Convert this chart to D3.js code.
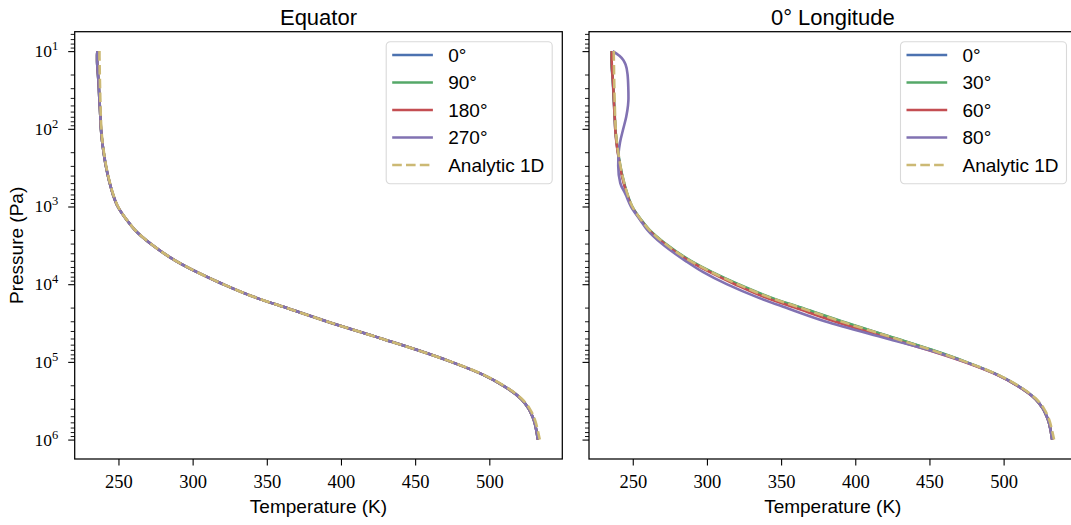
<!DOCTYPE html>
<html>
<head>
<meta charset="utf-8">
<script src="https://cdn.jsdelivr.net/npm/d3@7"></script>
<style>
  body { margin: 0; background: #fff; }
  svg { display: block; }
  .sans { font-family: "Liberation Sans", Arial, sans-serif; fill: #000; }
  .serif { font-family: "Liberation Serif", "Times New Roman", serif; fill: #000; }
</style>
</head>
<body>
<svg id="chart" width="1071" height="525"></svg>
<script>
// pressure levels (Pa) the profiles were read at
var pressure = [10, 11.5, 13, 15, 20, 30, 40, 50, 70, 100, 150, 200, 300, 500, 700, 1000, 1500, 2000, 3000, 5000, 7000,
                1e4, 1.5e4, 2e4, 3e4, 5e4, 7e4, 1e5, 1.5e5, 2e5, 3e5, 4e5, 5e5, 6e5, 7e5, 8e5, 1e6];

// equator: the four longitudes lie on top of each other
var equatorT = [235.8, 235.6, 235.6, 235.7, 236.2, 236.8, 237.1, 237.4, 237.8, 238.2, 239.1, 240.0, 241.5, 244.1, 246.3, 249.5, 255.7, 261.0, 271.5, 288.6, 303.0,
                320.5, 343.0, 362.5, 390.0, 427.0, 451.0, 474.3, 497.0, 509.0, 521.5, 526.5, 529.0, 530.5, 531.3, 531.9, 532.7];

var analyticT = [237.2, 237.2, 237.25, 237.3, 237.4, 237.6, 237.75, 237.9, 238.1, 238.5, 239.3, 240.2, 241.7, 244.3, 246.5, 249.7, 255.8, 261.1, 271.6, 288.7, 303.1,
                 320.6, 343.1, 362.6, 390.1, 427.1, 451.1, 474.5, 497.3, 509.4, 522.0, 527.2, 529.8, 531.3, 532.2, 532.9, 534.0];

// 0 deg longitude, by latitude
var lat0T = equatorT;
var lat30T = [235.8, 235.7, 235.7, 235.8, 236.3, 236.9, 237.2, 237.5, 237.9, 238.3, 239.2, 240.1, 241.6, 244.2, 246.4, 249.6, 255.9, 261.3, 272.0, 289.2, 303.6,
              321.2, 343.8, 363.3, 390.8, 427.8, 451.6, 474.6, 497.2, 509.1, 521.5, 526.5, 529.0, 530.5, 531.3, 531.9, 532.7];
var lat60T = [235.9, 235.8, 235.8, 235.9, 236.3, 236.9, 237.2, 237.4, 237.8, 238.2, 239.0, 239.9, 241.3, 243.9, 246.1, 249.3, 255.4, 260.7, 271.2, 288.0, 302.0,
              318.8, 340.2, 359.2, 385.8, 423.3, 448.6, 473.2, 496.6, 508.8, 521.4, 526.5, 529.0, 530.5, 531.3, 531.9, 532.7];
var lat80T = [236.5, 241.0, 243.6, 245.2, 246.5, 247.0, 247.1, 246.8, 245.6, 243.6, 241.4, 240.5, 240.2, 241.6, 245.2, 248.8, 255.1, 259.8, 269.5, 285.5, 297.5,
              313.3, 335.0, 353.0, 379.4, 421.1, 449.0, 473.8, 496.8, 509.0, 521.5, 526.5, 529.0, 530.5, 531.3, 531.9, 532.7];

var equatorLabels = ["0°", "90°", "180°", "270°"];
var longitudeLabels = ["0°", "30°", "60°", "80°"];
var colors = ["#4C72B0", "#55A868", "#C44E52", "#8172B2"];
var analyticColor = "#CCB974";

var xTicks = [250, 300, 350, 400, 450, 500];
var yMajor = [1, 2, 3, 4, 5, 6];   // exponents

var axW = 487.6, axH = 427.3, axTop = 31.7;

var x = d3.scaleLinear().domain([220.5, 549.2]).range([0, axW]);
var y = d3.scaleLog().domain([Math.pow(10, 0.75), Math.pow(10, 6.25)]).range([0, axH]);

var yMinor = [];
for (var e = 0; e <= 6; e++) {
  for (var m = 2; m <= 9; m++) {
    var v = m * Math.pow(10, e);
    if (v > y.domain()[0] && v < y.domain()[1]) yMinor.push(v);
  }
}

var svg = d3.select("#chart");

var line = d3.line()
  .x(function(d){ return x(d[0]); })
  .y(function(d){ return y(d[1]); })
  .curve(d3.curveMonotoneY);

function drawPanel(left, title, profiles, labels, showYLabels) {
  var g = svg.append("g").attr("transform", "translate(" + left + "," + axTop + ")");

  // curves
  profiles.forEach(function(T, i) {
    g.append("path")
      .datum(T.map(function(t, k){ return [t, pressure[k]]; }))
      .attr("fill", "none")
      .attr("stroke", colors[i])
      .attr("stroke-width", 2.6)
      .attr("stroke-linejoin", "round")
      .attr("d", line);
  });
  g.append("path")
    .datum(analyticT.map(function(t, k){ return [t, pressure[k]]; }))
    .attr("fill", "none")
    .attr("stroke", analyticColor)
    .attr("stroke-width", 2.6)
    .attr("stroke-dasharray", "9.6,4.2")
    .attr("d", line);

  // x axis
  var xAxis = d3.axisBottom(x).tickValues(xTicks).tickSize(6.5).tickSizeOuter(0).tickPadding(9);
  var gx = g.append("g").attr("transform", "translate(0," + axH + ")").call(xAxis);
  gx.select(".domain").remove();
  gx.selectAll(".tick line").attr("stroke", "#000").attr("stroke-width", 1.1);
  gx.selectAll(".tick text").attr("class", "serif").attr("font-size", 18.5).attr("font-family", null);

  // y axis: major + minor ticks
  var gy = g.append("g").call(d3.axisLeft(y).tickValues(yMajor.map(function(p){ return Math.pow(10, p); }))
    .tickSize(6.5).tickSizeOuter(0).tickFormat(""));
  gy.select(".domain").remove();
  gy.selectAll(".tick line").attr("stroke", "#000").attr("stroke-width", 1.1);
  var gyMinor = g.append("g").call(d3.axisLeft(y).tickValues(yMinor).tickSize(4).tickSizeOuter(0).tickFormat(""));
  gyMinor.select(".domain").remove();
  gyMinor.selectAll(".tick line").attr("stroke", "#000").attr("stroke-width", 0.9);

  if (showYLabels) {
    yMajor.forEach(function(p) {
      var t = g.append("text").attr("class", "serif")
        .attr("x", -16.5).attr("y", y(Math.pow(10, p)) + 6)
        .attr("text-anchor", "end").attr("font-size", 17.5);
      t.append("tspan").text("10");
      t.append("tspan").attr("font-size", 12.5).attr("dy", -7).text(p);
    });
  }

  // frame
  g.append("rect").attr("width", axW).attr("height", axH)
    .attr("fill", "none").attr("stroke", "#000").attr("stroke-width", 1.25);

  // title + x label
  g.append("text").attr("class", "sans").attr("x", axW / 2).attr("y", -6.5)
    .attr("text-anchor", "middle").attr("font-size", 22).text(title);
  g.append("text").attr("class", "sans").attr("x", axW / 2).attr("y", axH + 54.5)
    .attr("text-anchor", "middle").attr("font-size", 19).text("Temperature (K)");

  // legend
  var lg = g.append("g").attr("transform", "translate(" + 311.5 + "," + 10 + ")");
  lg.append("rect").attr("width", 166).attr("height", 142).attr("rx", 4)
    .attr("fill", "#fff").attr("fill-opacity", 0.8)
    .attr("stroke", "#d9d9d9").attr("stroke-width", 1.1);
  var entries = labels.map(function(l, i){ return {label: l, color: colors[i], dash: null}; });
  entries.push({label: "Analytic 1D", color: analyticColor, dash: "9.6,4.2"});
  entries.forEach(function(d, i) {
    var ry = 13.3 + i * 27.5;
    lg.append("line").attr("x1", 6).attr("x2", 46.7).attr("y1", ry).attr("y2", ry)
      .attr("stroke", d.color).attr("stroke-width", 2.6).attr("stroke-dasharray", d.dash);
    lg.append("text").attr("class", "sans").attr("x", 62).attr("y", ry + 6.6)
      .attr("font-size", 19).text(d.label);
  });
  return g;
}

drawPanel(74.7, "Equator", [equatorT, equatorT, equatorT, equatorT], equatorLabels, true);
drawPanel(589, "0° Longitude", [lat0T, lat30T, lat60T, lat80T], longitudeLabels, false);

svg.append("text").attr("class", "sans")
  .attr("transform", "translate(23," + (axTop + axH / 2) + ") rotate(-90)")
  .attr("text-anchor", "middle").attr("font-size", 19).text("Pressure (Pa)");
</script>
</body>
</html>
